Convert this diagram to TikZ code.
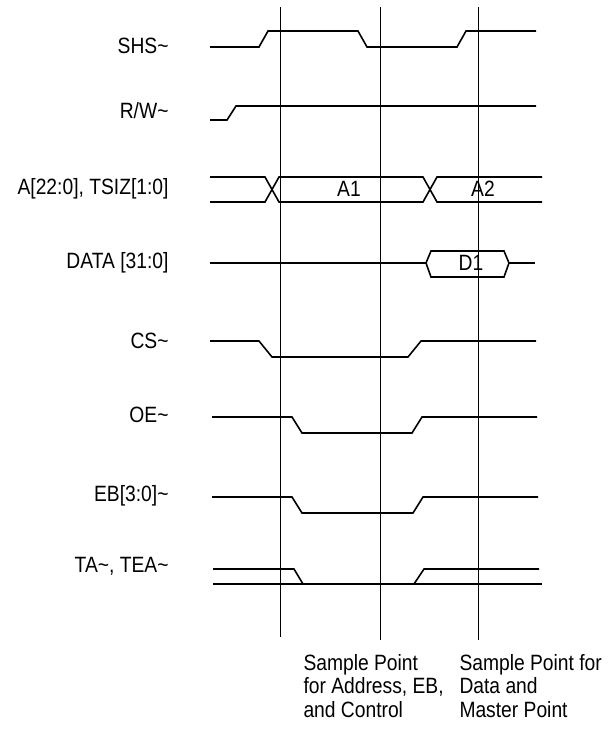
\documentclass[tikz,border=0pt]{standalone}
\usepackage{fontspec}
\setmainfont{Liberation Sans}[FakeStretch=0.87]
\tikzset{every picture/.style={line width=0.75pt}}
\tikzset{
	sig/.style={line width=1.2pt, line join=miter},
	guide/.style={line width=0.6pt},
	lbl/.style={anchor=east, inner sep=0pt},
	val/.style={inner sep=0pt},
	note/.style={anchor=west, inner sep=0pt, align=left}}

\begin{document}
\begin{tikzpicture}[x=0.75pt,y=0.75pt,yscale=-1,xscale=1]
	\useasboundingbox (0,0) rectangle (610,733); %set diagram size to 610 x 733
	\fontsize{16.6}{17.6}\selectfont

	%Straight Lines: sample points
	\draw [guide]  (280,7) -- (280,637) ;
	\draw [guide]  (380,7) -- (380,640) ;
	\draw [guide]  (478,7) -- (478,640) ;

	%Straight Lines: SHS
	\draw [sig]  (210,47) -- (259,47) -- (268,31) -- (358,31) -- (367,47) -- (457,47) -- (466,31) -- (536,31) ;
	%Straight Lines: R/W
	\draw [sig]  (210,120) -- (227,120) -- (236,106) -- (536,106) ;
	%Straight Lines: address bus
	\draw [sig]  (210,177) -- (265,177) -- (279,202) -- (423,202) -- (437,177) -- (542,177) ;
	\draw [sig]  (210,202) -- (265,202) -- (279,177) -- (423,177) -- (437,202) -- (542,202) ;
	%Straight Lines: data bus
	\draw [sig]  (210,263) -- (426,263) ;
	\draw [sig]  (426,263) -- (431,251) -- (504,251) -- (509,263) -- (504,277) -- (431,277) -- cycle ;
	\draw [sig]  (509,263) -- (535,263) ;
	%Straight Lines: CS
	\draw [sig]  (210,341) -- (259,341) -- (272,357) -- (408,357) -- (421,341) -- (536,341) ;
	%Straight Lines: OE
	\draw [sig]  (212,417) -- (292,417) -- (302,433) -- (412,433) -- (422,417) -- (537,417) ;
	%Straight Lines: EB
	\draw [sig]  (212,497) -- (292,497) -- (302,513) -- (413,513) -- (423,497) -- (538,497) ;
	%Straight Lines: TA, TEA
	\draw [sig]  (213,569) -- (294,569) -- (303,584) -- (414,584) -- (424,569) -- (539,569) ;
	\draw [sig, line width=1pt]  (213,584) -- (542,584) ;

	% Text Node
	\node [lbl] (lshs) at (169,46) {SHS\textasciitilde};
	% Text Node
	\node [lbl] (lrw) at (169,111) {R/W\textasciitilde};
	% Text Node
	\node [lbl] (laddr) at (169,189) {A[22:0], TSIZ[1:0]};
	% Text Node
	\node [lbl] (ldata) at (169,263) {DATA [31:0]};
	% Text Node
	\node [lbl] (lcs) at (169,341) {CS\textasciitilde};
	% Text Node
	\node [lbl] (loe) at (169,415) {OE\textasciitilde};
	% Text Node
	\node [lbl] (leb) at (169,496) {EB[3:0]\textasciitilde};
	% Text Node
	\node [lbl] (lta) at (169,566) {TA\textasciitilde, TEA\textasciitilde};
	% Text Node
	\node [val] (va1) at (349,189) {A1};
	% Text Node
	\node [val] (va2) at (483,189) {A2};
	% Text Node
	\node [val] (vd1) at (471,263) {D1};
	% Text Node
	\node [note] (naddr) at (303,686) {Sample Point\\for Address, EB,\\and Control};
	% Text Node
	\node [note] (ndata) at (459,686) {Sample Point for\\Data and\\Master Point};

\end{tikzpicture}
\end{document}
